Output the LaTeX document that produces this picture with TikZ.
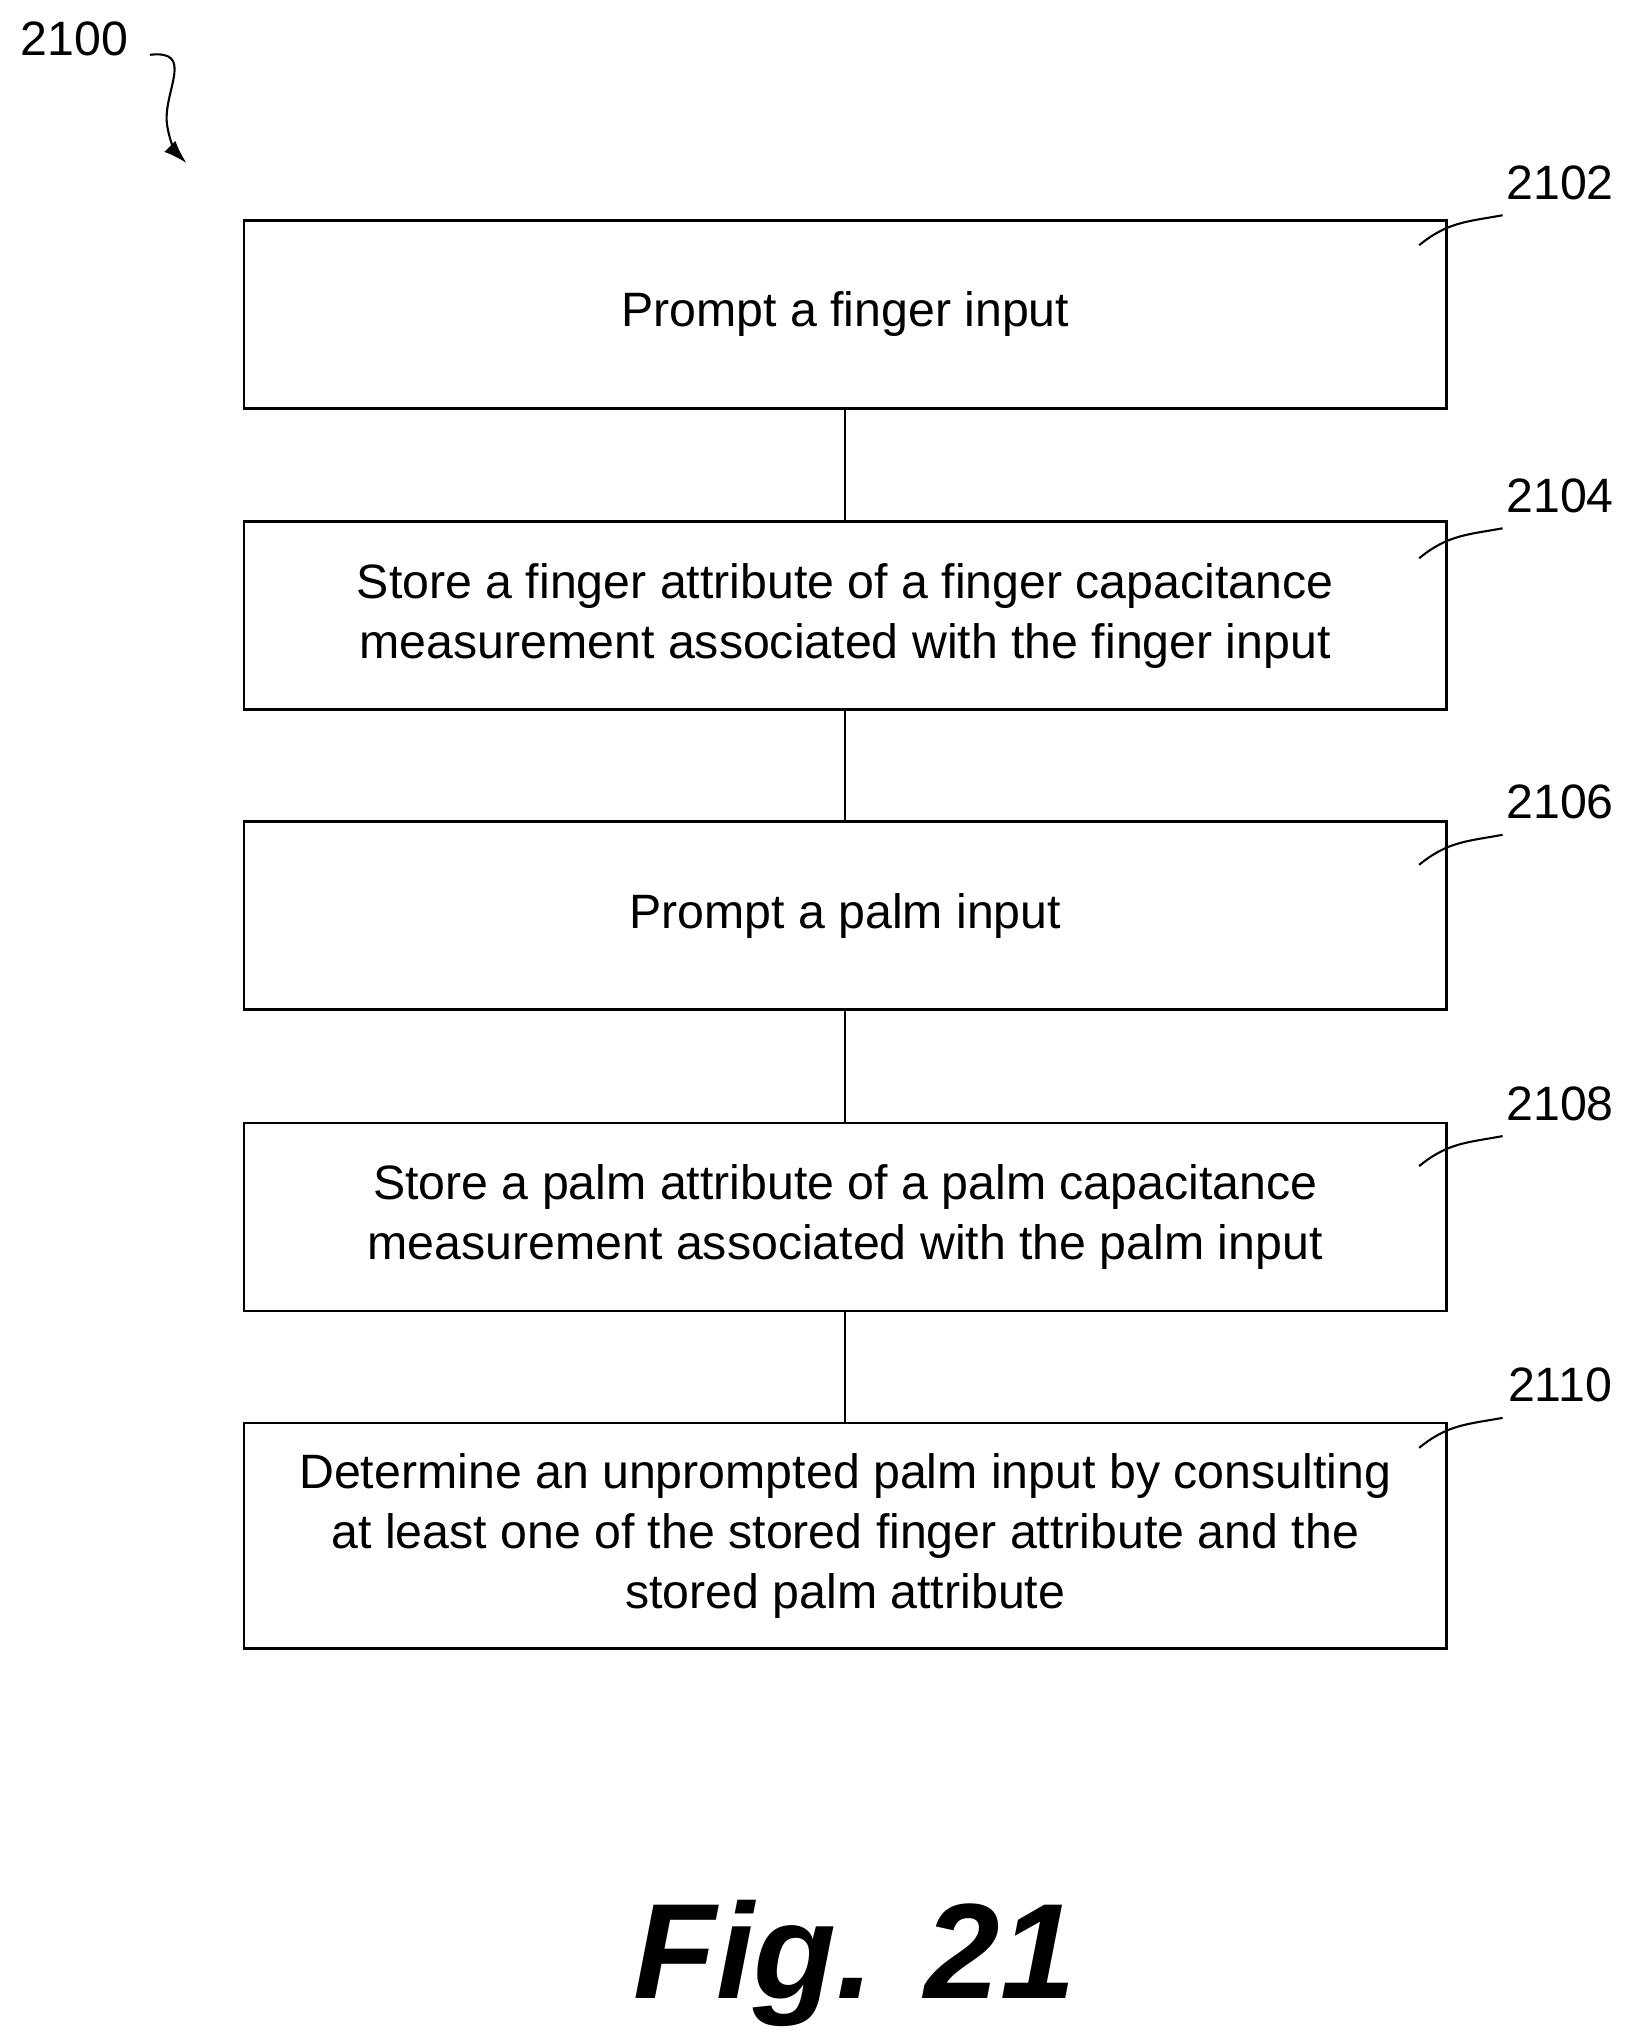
\documentclass[tikz,border=0pt]{standalone}
\usepackage{fontspec}
\setmainfont{Liberation Sans}
\usetikzlibrary{arrows.meta}
\begin{document}
\begin{tikzpicture}[x=0.5pt,y=-0.5pt,
  box/.style={draw,line width=1pt,minimum width=461pt,align=center,font=\fontsize{18.5}{23}\selectfont},
  lbl/.style={font=\fontsize{18.5}{22}\selectfont},
  lead/.style={line width=0.8pt}]
\useasboundingbox (0,0) rectangle (1250,1564);
\node[box,minimum height=72pt] (b1) at (648,241) {Prompt a finger input};
\node[box,minimum height=72pt] (b2) at (648,472) {Store a finger attribute of a finger capacitance\\measurement associated with the finger input};
\node[box,minimum height=72pt] (b3) at (648,702) {Prompt a palm input};
\node[box,minimum height=72pt] (b4) at (648,933) {Store a palm attribute of a palm capacitance\\measurement associated with the palm input};
\node[box,minimum height=86.5pt] (b5) at (648,1177.5) {Determine an unprompted palm input by consulting\\at least one of the stored finger attribute and the\\stored palm attribute};
\foreach \a/\b in {b1/b2,b2/b3,b3/b4,b4/b5} \draw[line width=0.8pt] (\a.south) -- (\b.north);
\foreach \n/\y/\t in {b1/140/2102,b2/380/2104,b3/615/2106,b4/846/2108,b5/1062/2110}{
  \node[lbl] (l\n) at (1196,\y) {\t};
  \coordinate (s\n) at (1088,\y+48);
  \coordinate (e\n) at (1152,\y+25);
  \draw[lead] (s\n) .. controls (1110,\y+30) and (1125,\y+30) .. (e\n);
}
\node[lbl] (l0) at (57,30) {2100};
\coordinate (s0) at (115,42);
\coordinate (e0) at (143,125);
\draw[lead,-{Latex[length=9pt,width=6pt]}] (s0) .. controls (150,38) and (125,70) .. (128,95) .. controls (130,110) and (136,118) .. (e0);
\node[font=\fontsize{52}{60}\bfseries\itshape\selectfont] (fig) at (655,1505) {Fig. 21};
\end{tikzpicture}
\end{document}
